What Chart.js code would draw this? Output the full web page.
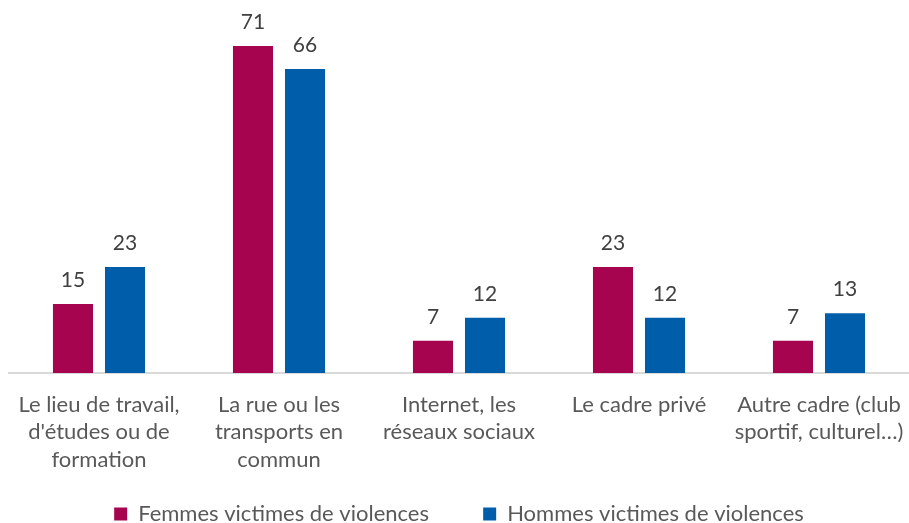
<!DOCTYPE html>
<html lang="fr">
<head>
<meta charset="utf-8">
<title>Lieux des violences</title>
<script src="https://cdn.jsdelivr.net/npm/chart.js@4.4.1/dist/chart.umd.min.js"></script>
<style>
  html, body { margin: 0; padding: 0; background: #fff; overflow: hidden; }
  #wrap { width: 909px; height: 523px; position: relative; }
</style>
</head>
<body>
<div id="wrap"><canvas id="chart"></canvas></div>
<script>
  const categories = [
    ['Le lieu de travail,', "d'études ou de", 'formation'],
    ['La rue ou les', 'transports en', 'commun'],
    ['Internet, les', 'réseaux sociaux'],
    ['Le cadre privé'],
    ['Autre cadre (club', 'sportif, culturel…)']
  ];
  const femmes = [15, 71, 7, 23, 7];
  const hommes = [23, 66, 12, 12, 13];
  const seriesNames = ['Femmes victimes de violences', 'Hommes victimes de violences'];
  const colors = ['#A6044F', '#005DAA'];

  const FONT = 'Lato, "Open Sans", sans-serif';

  // value labels above each bar
  const barValues = {
    id: 'barValues',
    afterDatasetsDraw(chart) {
      const ctx = chart.ctx;
      ctx.save();
      ctx.font = '21px ' + FONT;
      ctx.fillStyle = '#404040';
      ctx.textAlign = 'center';
      ctx.textBaseline = 'alphabetic';
      chart.data.datasets.forEach((ds, i) => {
        chart.getDatasetMeta(i).data.forEach((bar, j) => {
          ctx.fillText(ds.data[j], bar.x, bar.y - 17);
        });
      });
      ctx.restore();
    }
  };

  new Chart(document.getElementById('chart'), {
    type: 'bar',
    data: {
      labels: categories,
      datasets: seriesNames.map((name, i) => ({
        label: name,
        data: i === 0 ? femmes : hommes,
        backgroundColor: colors[i]
      }))
    },
    options: {
      responsive: true,
      maintainAspectRatio: false,
      animation: false,
      categoryPercentage: 0.578,
      barPercentage: 0.77,
      layout: { padding: { top: 46, left: 9, right: 0, bottom: -12 } },
      scales: {
        x: {
          grid: { display: false },
          border: { color: '#d9d9d9', width: 2 },
          ticks: {
            color: '#595959',
            font: { family: FONT, size: 22, lineHeight: 1.25 },
            maxRotation: 0,
            autoSkip: false,
            padding: 10
          },
          afterFit(scale) {
            // let the axis run edge to edge
            scale.paddingLeft = 0;
            scale.paddingRight = 0;
            scale.height = 104;
          }
        },
        y: {
          display: false,
          min: 0,
          max: 71
        }
      },
      plugins: {
        legend: {
          position: 'bottom',
          labels: {
            color: '#595959',
            font: { family: FONT, size: 22 },
            boxWidth: 13,
            boxHeight: 13,
            padding: 26,
            // extra room after the first entry
            generateLabels(chart) {
              const items = Chart.defaults.plugins.legend.labels.generateLabels(chart);
              items[0].text += '     ';
              return items;
            }
          }
        },
        tooltip: { enabled: false }
      }
    },
    plugins: [barValues]
  });
</script>
</body>
</html>
